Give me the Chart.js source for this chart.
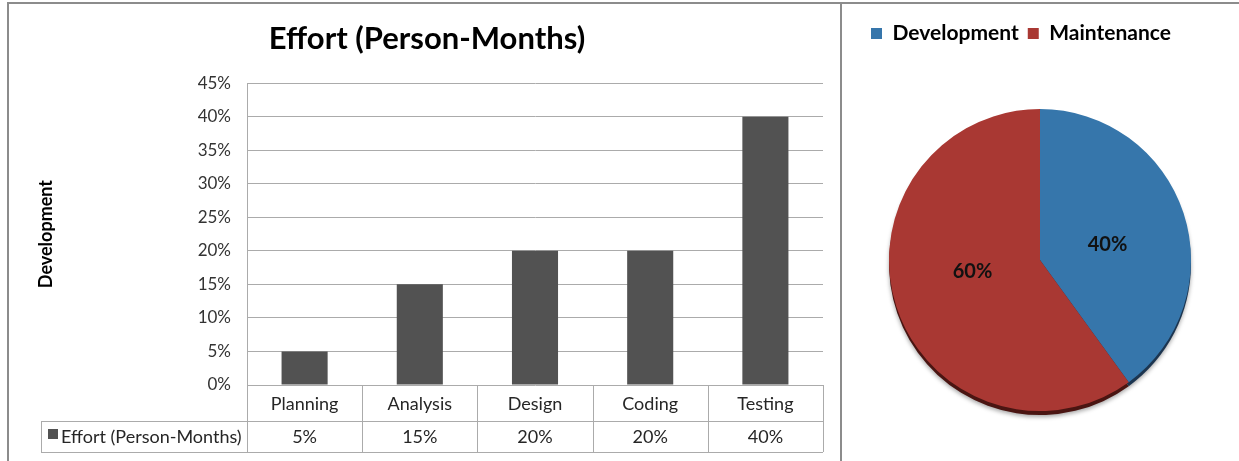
<!DOCTYPE html>
<html>
<head>
<meta charset="utf-8">
<script src="https://cdn.jsdelivr.net/npm/chart.js@4"></script>
<style>
  body { margin: 0; background: #fff; width: 1239px; height: 461px; overflow: hidden; position: relative; }
  #frame { position: absolute; left: 7px; top: 2px; width: 1240px; height: 470px; border-top: 2px solid #8c8c8c; border-left: 2px solid #8c8c8c; }
  #divider { position: absolute; left: 840px; top: 2px; width: 2px; height: 470px; background: #8c8c8c; }
  #left { position: absolute; left: 8px; top: 3px; width: 833px; height: 458px; }
  #right { position: absolute; left: 841px; top: 3px; width: 398px; height: 458px; }
</style>
</head>
<body>
<div id="frame"></div>
<div id="divider"></div>
<div id="left"><canvas id="barChart"></canvas></div>
<div id="right"><canvas id="pieChart"></canvas></div>
<script>
// dati del grafico a barre
const phases = ['Planning', 'Analysis', 'Design', 'Coding', 'Testing'];
const effort = [5, 15, 20, 20, 40];
const effortLabel = 'Effort (Person-Months)';

// dati del grafico a torta
const pieLabels = ['Development', 'Maintenance'];
const pieValues = [40, 60];

const FONT = 'Lato, "Open Sans", sans-serif';
const BAR_COLOR = '#525252';
const GRID = '#ababab';

// tabella dati sotto il grafico
const dataTable = {
    id: 'dataTable',
    afterDraw(chart) {
        const ctx = chart.ctx;
        const xs = chart.scales.x;
        const area = chart.chartArea;
        const half = (xs.getPixelForValue(1) - xs.getPixelForValue(0)) / 2;
        const y0 = area.bottom, y1 = 418, y2 = 449;
        const legendLeft = 33;
        ctx.save();
        ctx.strokeStyle = GRID;
        ctx.lineWidth = 1;
        ctx.beginPath();
        for (let i = 0; i <= phases.length; i++) {
            const x = Math.round(xs.getPixelForValue(i) - half) + 0.5;
            ctx.moveTo(x, y0); ctx.lineTo(x, y2);
        }
        ctx.moveTo(legendLeft + 0.5, y1); ctx.lineTo(legendLeft + 0.5, y2);
        ctx.moveTo(legendLeft, y1 + 0.5); ctx.lineTo(area.right, y1 + 0.5);
        ctx.moveTo(legendLeft, y2 + 0.5); ctx.lineTo(area.right, y2 + 0.5);
        ctx.stroke();

        ctx.fillStyle = '#262626';
        ctx.font = '18px ' + FONT;
        ctx.textAlign = 'center';
        ctx.textBaseline = 'middle';
        phases.forEach((p, i) => {
            const x = xs.getPixelForValue(i);
            ctx.fillText(p, x, (y0 + y1) / 2 + 1);
            ctx.fillText(effort[i] + '%', x, (y1 + y2) / 2 + 1);
        });
        ctx.fillStyle = BAR_COLOR;
        ctx.fillRect(40, 426, 10, 10);
        ctx.fillStyle = '#262626';
        ctx.textAlign = 'left';
        ctx.fillText(effortLabel, 53, (y1 + y2) / 2 + 1);
        ctx.restore();
    }
};

new Chart(document.getElementById('barChart'), {
    type: 'bar',
    data: {
        labels: phases,
        datasets: [{
            label: effortLabel,
            data: effort,
            backgroundColor: BAR_COLOR,
            barPercentage: 0.8,
            categoryPercentage: 0.5
        }]
    },
    options: {
        responsive: true,
        maintainAspectRatio: false,
        animation: false,
        layout: { padding: { left: 23, right: 18, top: 0, bottom: 0 } },
        plugins: {
            legend: { display: false },
            tooltip: { enabled: false },
            title: {
                display: true,
                text: 'Effort (Person-Months)',
                color: '#000',
                font: { family: FONT, size: 31, weight: 'bold', lineHeight: 1.1 },
                padding: { top: 19, bottom: 27 }
            }
        },
        scales: {
            x: {
                grid: { display: false },
                border: { display: false },
                ticks: { display: false },
                afterFit(s) { s.height = 76; }
            },
            y: {
                min: 0,
                max: 45,
                ticks: { stepSize: 5, padding: 16, color: '#333', font: { family: FONT, size: 17 }, callback: v => v + '%' },
                grid: { color: GRID, drawTicks: false },
                border: { color: GRID },
                title: { display: true, text: 'Development', color: '#000', font: { family: FONT, size: 18, weight: 'bold' } },
                afterFit(s) { s.width = 216; }
            }
        }
    },
    plugins: [dataTable]
});

// bordo scuro sotto la torta (effetto 3D) + etichette percentuali
const pieDecor = {
    id: 'pieDecor',
    beforeInit(chart) {
        const fit = chart.legend.fit;
        chart.legend.fit = function () {
            fit.call(this);
            this.height = 95;
        };
    },
    beforeDatasetsDraw(chart) {
        const ctx = chart.ctx;
        const dark = ['#1c3550', '#4a1512'];
        ctx.save();
        chart.getDatasetMeta(0).data.forEach((arc, i) => {
            ctx.fillStyle = dark[i];
            ctx.shadowColor = 'rgba(0,0,0,0.35)';
            ctx.shadowBlur = 4;
            ctx.shadowOffsetY = 2;
            ctx.beginPath();
            ctx.moveTo(arc.x, arc.y + 4);
            ctx.arc(arc.x, arc.y + 4, arc.outerRadius, arc.startAngle, arc.endAngle);
            ctx.closePath();
            ctx.fill();
        });
        ctx.restore();
    },
    afterDatasetsDraw(chart) {
        const ctx = chart.ctx;
        ctx.save();
        ctx.fillStyle = '#111';
        ctx.font = 'bold 20px ' + FONT;
        ctx.textAlign = 'center';
        ctx.textBaseline = 'middle';
        chart.getDatasetMeta(0).data.forEach((arc, i) => {
            const a = (arc.startAngle + arc.endAngle) / 2;
            const r = arc.outerRadius * 0.47;
            // Excel sposta leggermente le etichette verso l'orizzontale
            const dy = i === 0 ? 6 : -10;
            ctx.fillText(pieValues[i] + '%', arc.x + Math.cos(a) * r, arc.y + Math.sin(a) * r + dy);
        });
        ctx.restore();
    }
};

new Chart(document.getElementById('pieChart'), {
    type: 'pie',
    data: {
        labels: pieLabels,
        datasets: [{
            data: pieValues,
            backgroundColor: ['#3676ab', '#a93833'],
            borderWidth: 0
        }]
    },
    options: {
        responsive: true,
        maintainAspectRatio: false,
        animation: false,
        layout: { padding: { left: 21, right: 21, top: 11, bottom: 50 } },
        plugins: {
            tooltip: { enabled: false },
            legend: {
                position: 'top',
                align: 'start',
                labels: {
                    color: '#000',
                    boxWidth: 11,
                    boxHeight: 11,
                    padding: 9,
                    font: { family: FONT, size: 21, weight: 'bold' }
                }
            }
        }
    },
    plugins: [pieDecor]
});
</script>
</body>
</html>
